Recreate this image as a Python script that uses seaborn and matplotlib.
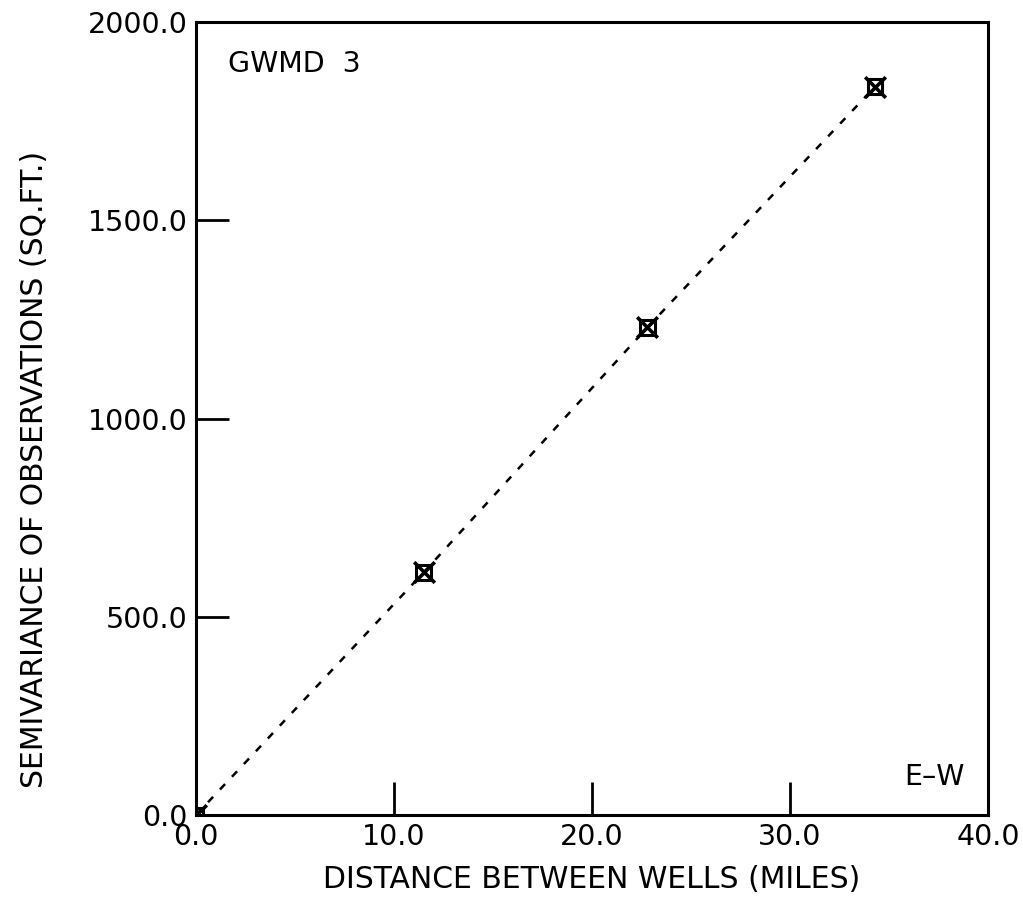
import matplotlib.pyplot as plt
import seaborn as sns

distance = [0.0, 11.5, 22.8, 34.3]
semivariance = [0.0, 612.0, 1230.0, 1837.0]
x_ticks = [0, 10, 20, 30, 40]
y_ticks = [0, 500, 1000, 1500, 2000]


def main():
    sns.set_style("white")
    plt.rcParams["font.family"] = ["DejaVu Sans"]
    plt.rcParams["text.color"] = "black"
    plt.rcParams["axes.labelcolor"] = "black"
    plt.rcParams["xtick.color"] = "black"
    plt.rcParams["ytick.color"] = "black"

    fig = plt.figure(figsize=(10.23, 9.05), dpi=100)
    ax = fig.add_axes([0.1916, 0.0994, 0.7742, 0.8763])

    sns.lineplot(x=distance, y=semivariance, ax=ax, color="black",
                 linestyle=(0, (3, 4)), linewidth=1.8)
    sns.scatterplot(x=distance, y=semivariance, ax=ax, marker="s", s=110,
                    facecolor="none", edgecolor="black", linewidth=2.2)
    sns.scatterplot(x=distance, y=semivariance, ax=ax, marker="x", s=220,
                    color="black", linewidth=2.6)

    ax.set_xlim(0, 40)
    ax.set_ylim(0, 2000)
    ax.set_xticks(x_ticks)
    ax.set_yticks(y_ticks)
    ax.set_xticklabels([f"{v:.1f}" for v in x_ticks], fontsize=20.5)
    ax.set_yticklabels([f"{v:.1f}" for v in y_ticks], fontsize=20.5)
    ax.tick_params(bottom=True, left=True, direction="in", length=24,
                   width=2, pad=6)

    for s in ax.spines.values():
        s.set_color("black")
        s.set_linewidth(2.2)

    ax.set_xlabel("DISTANCE BETWEEN WELLS (MILES)", fontsize=21.5,
                  labelpad=10)
    ax.set_ylabel("SEMIVARIANCE OF OBSERVATIONS (SQ.FT.)", fontsize=21.5)
    ax.yaxis.set_label_coords(-0.185, 0.436)

    ax.text(0.04, 0.965, "GWMD  3", transform=ax.transAxes, fontsize=20.5,
            va="top", ha="left")
    ax.text(0.97, 0.03, "E\u2013W", transform=ax.transAxes, fontsize=20.5,
            va="bottom", ha="right")

    fig.savefig("out.png", dpi=100)


if __name__ == "__main__":
    main()
